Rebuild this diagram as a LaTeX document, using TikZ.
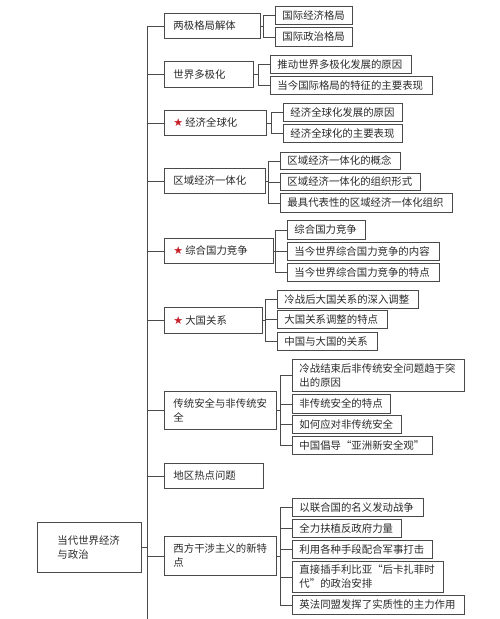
\documentclass[tikz,border=0pt]{standalone}
\usepackage{fontspec}
\setmainfont{Noto Sans CJK SC}
\newfontfamily\starfont{DejaVu Sans}
\definecolor{txt}{HTML}{2A2A2A}
\definecolor{edgec}{HTML}{4A4A4A}
\definecolor{starred}{HTML}{C8202A}
\newcommand{\rstar}{{\starfont\color{starred}\fontsize{11}{11}\selectfont ★}\hspace{2pt}}
% #1 style, #2 pad, #3 name, #4 x1, #5 y1, #6 x2, #7 y2, #8 text
\newcommand{\bx}[8]{%
  \pgfmathsetmacro\bxw{#6-#4}%
  \pgfmathsetmacro\bxh{#7-#5}%
  \pgfmathsetmacro\bxt{#6-#4-2*#2}%
  \node[#1, inner xsep=#2pt, text width=\bxt pt, minimum width=\bxw pt,
        minimum height=\bxh pt, anchor=north west] (#3) at (#4,#5) {#8};}
\begin{document}
\begin{tikzpicture}[x=1pt,y=-1pt,
  boxst/.style={draw=edgec, line width=0.9pt, fill=white, inner ysep=0pt,
    align=left, text=txt, font=\fontsize{10.4}{14}\selectfont},
  conn/.style={draw=edgec, line width=0.9pt}]
\useasboundingbox[fill=white] (0,0) rectangle (500,619);
% root
\bx{boxst}{20}{root}{37}{522}{141}{572}{当代世界经济\\与政治}
% level 1
\bx{boxst}{9}{b1}{164}{13}{260}{38}{两极格局解体}
\bx{boxst}{9}{b2}{164}{61}{253}{87}{世界多极化}
\bx{boxst}{9}{b3}{164}{110}{266}{135}{\rstar 经济全球化}
\bx{boxst}{9}{b4}{164}{168}{265}{193}{区域经济一体化}
\bx{boxst}{9}{b5}{164}{238}{273}{263}{\rstar 综合国力竞争}
\bx{boxst}{9}{b6}{164}{307}{262}{333}{\rstar 大国关系}
\bx{boxst}{9}{b7}{164}{391}{276}{429}{传统安全与非传统安\\全}
\bx{boxst}{9}{b8}{164}{463}{263}{488}{地区热点问题}
\bx{boxst}{9}{b9}{164}{536}{276}{575}{西方干涉主义的新特\\点}
% level 2
\bx{boxst}{7}{s1a}{275}{6}{352}{24}{国际经济格局}
\bx{boxst}{7}{s1b}{275}{27}{352}{46}{国际政治格局}
\bx{boxst}{7}{s2a}{270}{55}{411}{73}{推动世界多极化发展的原因}
\bx{boxst}{7}{s2b}{270}{76}{432}{94}{当今国际格局的特征的主要表现}
\bx{boxst}{7}{s3a}{283}{103}{402}{121}{经济全球化发展的原因}
\bx{boxst}{7}{s3b}{283}{124}{402}{142}{经济全球化的主要表现}
\bx{boxst}{7}{s4a}{280}{152}{400}{169}{区域经济一体化的概念}
\bx{boxst}{7}{s4b}{280}{173}{420}{190}{区域经济一体化的组织形式}
\bx{boxst}{7}{s4c}{280}{193}{452}{212}{最具代表性的区域经济一体化组织}
\bx{boxst}{7}{s5a}{287}{220}{365}{239}{综合国力竞争}
\bx{boxst}{7}{s5b}{287}{242}{439}{260}{当今世界综合国力竞争的内容}
\bx{boxst}{7}{s5c}{287}{263}{439}{281}{当今世界综合国力竞争的特点}
\bx{boxst}{7}{s6a}{277}{290}{418}{308}{冷战后大国关系的深入调整}
\bx{boxst}{7}{s6b}{277}{310}{387}{328}{大国关系调整的特点}
\bx{boxst}{7}{s6c}{277}{332}{377}{350}{中国与大国的关系}
\bx{boxst}{7}{s7a}{292}{359}{464}{391}{冷战结束后非传统安全问题趋于突\\出的原因}
\bx{boxst}{7}{s7b}{292}{394}{390}{413}{非传统安全的特点}
\bx{boxst}{7}{s7c}{292}{415}{401}{433}{如何应对非传统安全}
\bx{boxst}{7}{s7d}{292}{436}{432}{454}{中国倡导“亚洲新安全观”}
\bx{boxst}{7}{s9a}{292}{498}{423}{516}{以联合国的名义发动战争}
\bx{boxst}{7}{s9b}{292}{519}{401}{537}{全力扶植反政府力量}
\bx{boxst}{7}{s9c}{292}{540}{432}{558}{利用各种手段配合军事打击}
\bx{boxst}{7}{s9d}{292}{561}{443}{592}{直接插手利比亚“后卡扎菲时\\代”的政治安排}
\bx{boxst}{7}{s9e}{292}{595}{464}{614}{英法同盟发挥了实质性的主力作用}
% trunk
\coordinate (tk) at (147,0);
\coordinate (tkend) at (147,619);
\draw[conn] (b1.west -| tk) -- (tkend);
\draw[conn] (root.east) -- (root.east -| tk);
\foreach \b in {b1,b2,b3,b4,b5,b6,b7,b8,b9}
  \draw[conn] (\b.west) -- (\b.west -| tk);
% sub brackets
\foreach \p/\s in {b1/s1a,b1/s1b,b2/s2a,b2/s2b,b3/s3a,b3/s3b,
                   b4/s4a,b4/s4b,b4/s4c,b5/s5a,b5/s5b,b5/s5c,
                   b6/s6a,b6/s6b,b6/s6c,b7/s7a,b7/s7b,b7/s7c,b7/s7d,
                   b9/s9a,b9/s9b,b9/s9c,b9/s9d,b9/s9e}
  \draw[conn] (\s.west) -- ++(-12,0) |- (\p.east);
\end{tikzpicture}
\end{document}
